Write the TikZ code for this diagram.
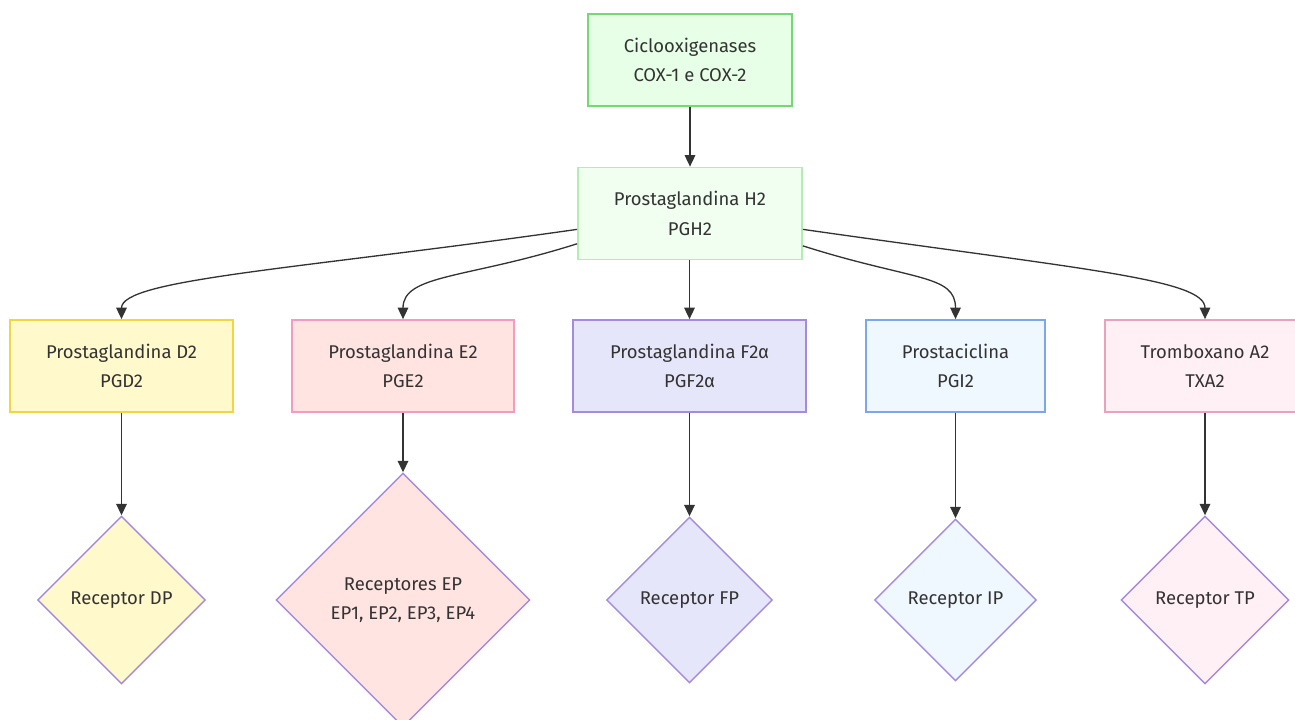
\documentclass[tikz,border=0pt]{standalone}
\usepackage{fontspec}
\setmainfont{Fira Sans}
\usetikzlibrary{shapes.geometric,arrows.meta}
\pgfmathsetmacro{\px}{0.02cm}
\pgfmathsetmacro{\boxh}{92*\px}
\definecolor{txtgray}{HTML}{333333}
\definecolor{coxfill}{HTML}{E6FFE6}
\definecolor{coxline}{HTML}{72DA72}
\definecolor{pghfill}{HTML}{F0FFF0}
\definecolor{pghline}{HTML}{B2EEB2}
\definecolor{pgdfill}{HTML}{FFF9CC}
\definecolor{pgdline}{HTML}{F2D640}
\definecolor{pgefill}{HTML}{FFE4E1}
\definecolor{pgeline}{HTML}{F79AC0}
\definecolor{pgffill}{HTML}{E6E6FA}
\definecolor{pgfline}{HTML}{A48AE0}
\definecolor{pgifill}{HTML}{F0F8FF}
\definecolor{pgiline}{HTML}{7EA6EC}
\definecolor{txafill}{HTML}{FFF0F5}
\definecolor{txaline}{HTML}{E8A2BA}

\begin{document}
\begin{tikzpicture}[x=0.02cm, y=-0.02cm,
    txt/.style={font={\fontsize{10.5}{16.8}\selectfont}, text=txtgray, align=center},
    box/.style={txt, rectangle, draw, line width=1pt, minimum height=\boxh, inner sep=0pt},
    recep/.style={txt, diamond, draw=pgfline, line width=0.8pt, inner sep=0pt, minimum size=#1*\px},
    link/.style={draw=txtgray, line width=0.75pt, -{Triangle[length=6.5pt, width=6pt]}}]
    \useasboundingbox (0,0) rectangle (1295,720);
    % enzymes and precursor
    \node[box, draw=coxline, fill=coxfill, minimum width=204*\px] (cox) at (690,60)
        {Ciclooxigenases\\COX-1 e COX-2};
    \node[box, draw=pghline, fill=pghfill, minimum width=224*\px] (pgh) at (690,213.5)
        {Prostaglandina H2\\PGH2};
    % prostanoids
    \node[box, draw=pgdline, fill=pgdfill, minimum width=223*\px] (pgd) at (121.5,366)
        {Prostaglandina D2\\PGD2};
    \node[box, draw=pgeline, fill=pgefill, minimum width=222*\px] (pge) at (403,366)
        {Prostaglandina E2\\PGE2};
    \node[box, draw=pgfline, fill=pgffill, minimum width=233*\px] (pgf) at (689.5,366)
        {Prostaglandina F2α\\PGF2α};
    \node[box, draw=pgiline, fill=pgifill, minimum width=179*\px] (pgi) at (955.5,366)
        {Prostaciclina\\PGI2};
    \node[box, draw=txaline, fill=txafill, minimum width=200*\px] (txa) at (1205,366)
        {Tromboxano A2\\TXA2};
    % receptors
    \node[recep=168, fill=pgdfill] (rdp) at (121.5,600) {Receptor DP};
    \node[recep=254, fill=pgefill] (rep) at (403,600) {Receptores EP\\EP1, EP2, EP3, EP4};
    \node[recep=166, fill=pgffill] (rfp) at (689.5,600) {Receptor FP};
    \node[recep=162, fill=pgifill] (rip) at (955.5,600) {Receptor IP};
    \node[recep=168, fill=txafill] (rtp) at (1205,600) {Receptor TP};
    % connectors
    \draw[link] (cox) -- (pgh);
    \draw[link] (pgh.188) .. controls +(-280,40) and +(0,-40) .. (pgd.north);
    \draw[link] (pgh.195) .. controls +(-110,35) and +(0,-45) .. (pge.north);
    \draw[link] (pgh.south -| pgf.north) -- (pgf.north);
    \draw[link] (pgh.344) .. controls +(110,35) and +(0,-45) .. (pgi.north);
    \draw[link] (pgh.352) .. controls +(280,40) and +(0,-40) .. (txa.north);
    \draw[link] (pgd) -- (rdp);
    \draw[link] (pge) -- (rep);
    \draw[link] (pgf) -- (rfp);
    \draw[link] (pgi) -- (rip);
    \draw[link] (txa) -- (rtp);
\end{tikzpicture}
\end{document}
